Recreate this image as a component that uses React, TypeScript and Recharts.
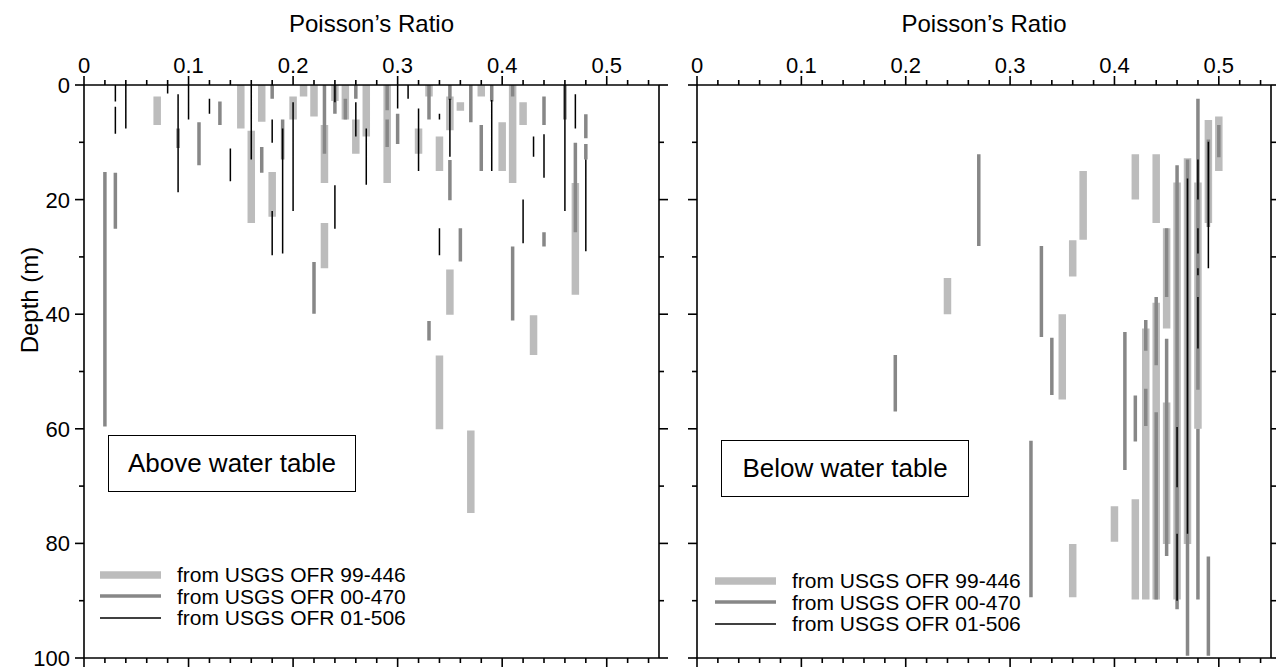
import { Legend, Line, LineChart, XAxis, YAxis } from "recharts";

// [poisson ratio, top depth (m), bottom depth (m)]
type Seg = [number, number, number];

const ratioMajorTicks = [0, 0.1, 0.2, 0.3, 0.4, 0.5];
const ratioMinorTicks = [
  0.02, 0.04, 0.06, 0.08, 0.12, 0.14, 0.16, 0.18, 0.22, 0.24, 0.26, 0.28,
  0.32, 0.34, 0.36, 0.38, 0.42, 0.44, 0.46, 0.48, 0.52, 0.54,
];
const depthMajorTicks = [0, 20, 40, 60, 80, 100];
const depthMinorTicks = [10, 30, 50, 70, 90];

const sourceNames = ["from USGS OFR 99-446", "from USGS OFR 00-470", "from USGS OFR 01-506"];

// above water table
const above99446: Seg[] = [
  [0.07, 2, 7], [0.15, 0, 7.6], [0.16, 8, 24.1], [0.17, 0, 6.4], [0.18, 15.2, 23],
  [0.2, 2, 6], [0.21, 0, 2], [0.22, 0, 5.5], [0.23, 7, 17.1], [0.23, 24.1, 32],
  [0.24, 0, 2.8], [0.25, 0, 6], [0.26, 6, 12], [0.27, 0, 9], [0.29, 0, 17.1],
  [0.32, 7.6, 12], [0.33, 0, 2], [0.34, 9, 15], [0.35, 2, 7.9], [0.35, 32.2, 40.1],
  [0.34, 47.2, 60.1], [0.36, 3, 4.5], [0.37, 60.3, 74.7], [0.38, 0, 2], [0.4, 6.5, 15],
  [0.41, 0, 17.1], [0.42, 3, 7], [0.43, 40.2, 47.1], [0.47, 17.1, 36.6],
];
const above00470: Seg[] = [
  [0.02, 15.2, 59.6], [0.03, 15.3, 25.1], [0.09, 7.6, 11], [0.11, 6.5, 14], [0.13, 2.9, 7],
  [0.17, 10.8, 15.3], [0.18, 0, 2.4], [0.19, 6, 13], [0.22, 30.9, 39.9], [0.23, 0, 12],
  [0.24, 0, 5], [0.25, 2.4, 6], [0.26, 0, 2.4], [0.29, 0, 4.4], [0.29, 6, 10.8],
  [0.3, 5, 10.3], [0.33, 0, 6], [0.33, 41.2, 44.6], [0.35, 0, 2.6], [0.35, 13.1, 20.1],
  [0.36, 25, 30.8], [0.37, 0, 6.5], [0.38, 7, 15], [0.39, 0, 2.9], [0.41, 0, 2],
  [0.41, 28.2, 41.1], [0.44, 2, 7], [0.44, 25.7, 28.2], [0.46, 0, 6], [0.47, 10.1, 25.7],
  [0.48, 5.1, 9.3], [0.48, 10.3, 13],
];
const above01506: Seg[] = [
  [0.03, 0, 2.9], [0.03, 3.8, 8.5], [0.04, 0, 7.6], [0.08, 0, 1.5], [0.09, 1.6, 18.7],
  [0.1, 0, 6], [0.12, 2.4, 5], [0.14, 11.1, 16.8], [0.16, 0, 13], [0.18, 6, 10.1],
  [0.18, 22, 29.7], [0.19, 7.6, 29.4], [0.2, 3, 22], [0.24, 0, 3], [0.24, 17.5, 25.1],
  [0.26, 3, 9], [0.27, 7.6, 17.4], [0.3, 0, 4.1], [0.31, 0, 2.4], [0.32, 4.1, 15],
  [0.34, 5, 6], [0.34, 25, 29.7], [0.35, 2.4, 12.5], [0.39, 2.6, 15], [0.42, 20, 27.6],
  [0.43, 9, 12.5], [0.44, 8.6, 16.2], [0.46, 0, 22], [0.47, 1.6, 7.6], [0.48, 13, 29],
];

// below water table
const below99446: Seg[] = [
  [0.24, 33.7, 40], [0.36, 27.1, 33.4], [0.37, 15, 27], [0.35, 40, 54.9], [0.36, 80.1, 89.4],
  [0.4, 73.5, 79.7], [0.42, 12.1, 20], [0.42, 72.3, 89.8], [0.43, 42.5, 89.8], [0.44, 12.1, 24.1],
  [0.44, 38, 89.8], [0.45, 25, 42.5], [0.45, 55.4, 80.1], [0.46, 17, 89.8], [0.47, 12.8, 80.1],
  [0.48, 17, 60], [0.49, 6.1, 24.1], [0.5, 5.5, 15],
];
const below00470: Seg[] = [
  [0.19, 47.1, 57], [0.27, 12.1, 28.1], [0.32, 62.1, 89.4], [0.33, 28.1, 44], [0.34, 44.1, 54.1],
  [0.41, 43.1, 67.2], [0.42, 54.2, 62.2], [0.43, 41, 46.4], [0.43, 53, 59.5], [0.44, 37, 48.9],
  [0.44, 57.1, 89.8], [0.45, 25, 37], [0.45, 44.3, 82.2], [0.46, 14, 91.5], [0.47, 13, 99.6],
  [0.48, 2.4, 53.2], [0.48, 60, 89.8], [0.49, 9.5, 24.8], [0.49, 82.3, 99.6], [0.5, 7, 12.6],
];
const below01506: Seg[] = [
  [0.46, 59.7, 70.2], [0.46, 78.3, 90], [0.47, 16.3, 78.3], [0.48, 13, 20], [0.48, 25, 29.4],
  [0.48, 32, 33.2], [0.48, 37, 46], [0.49, 9.9, 32],
];

const FONT = '"Liberation Sans", Arial, Helvetica, sans-serif';
const SOURCE_STYLE = [
  { color: "#bcbcbc", width: 7.5 },
  { color: "#878787", width: 3.5 },
  { color: "#000000", width: 1.5 },
];
const AXIS = { stroke: "#000", strokeWidth: 1.6 };

// each segment becomes two points followed by a null so the line breaks
const toLineData = (segs: Seg[]) =>
  segs.flatMap(([ratio, top, bottom]) => [
    { ratio, depth: top },
    { ratio, depth: bottom },
    { ratio, depth: null },
  ]);

type Side = "top" | "bottom" | "left" | "right";

function makeTick(side: Side, majors: number[], showLabels: boolean) {
  return (props: any) => {
    const { x, y, payload } = props;
    const v = payload.value;
    const major = majors.includes(v);
    const len = major ? 9 : 5;
    const x2 = side === "left" ? x - len : side === "right" ? x + len : x;
    const y2 = side === "top" ? y - len : side === "bottom" ? y + len : y;
    let label = null;
    if (showLabels && major && side === "top") {
      label = (
        <text x={x} y={y - 12} textAnchor="middle" fontSize={22} fontFamily={FONT} fill="#000">
          {String(v)}
        </text>
      );
    }
    if (showLabels && major && side === "left") {
      label = (
        <text x={x - 14} y={y} dy="0.36em" textAnchor="end" fontSize={22} fontFamily={FONT} fill="#000">
          {String(v)}
        </text>
      );
    }
    return (
      <g>
        <line x1={x} y1={y} x2={x2} y2={y2} stroke="#000" strokeWidth={1.6} />
        {label}
      </g>
    );
  };
}

function AxisTitle(props: any) {
  const vb = props.viewBox || { x: 0, y: 0, width: 0 };
  return (
    <text x={vb.x + vb.width / 2} y={vb.y + 32} textAnchor="middle" fontSize={24} fontFamily={FONT} fill="#000">
      Poisson’s Ratio
    </text>
  );
}

function DepthTitle() {
  return (
    <text x={30} y={300} dy="0.35em" transform="rotate(-90 30 300)" textAnchor="middle" fontSize={24} fontFamily={FONT} fill="#000">
      Depth (m)
    </text>
  );
}

function SourceLegend() {
  return (
    <div style={{ fontFamily: FONT, fontSize: 21, color: "#000" }}>
      {sourceNames.map((name, i) => (
        <div key={name} style={{ display: "flex", alignItems: "center", height: 21.5 }}>
          <svg width={61} height={10} style={{ display: "block" }}>
            <line x1={0} x2={61} y1={5} y2={5} stroke={SOURCE_STYLE[i].color} strokeWidth={SOURCE_STYLE[i].width} />
          </svg>
          <span style={{ marginLeft: 16, lineHeight: "21.5px", whiteSpace: "nowrap" }}>{name}</span>
        </div>
      ))}
    </div>
  );
}

interface PanelProps {
  width: number;
  leftWidth: number;
  rightWidth: number;
  labels: boolean;
  series: Seg[][];
  legendLeft: number;
  legendTop: number;
}

function Panel({ width, leftWidth, rightWidth, labels, series, legendLeft, legendTop }: PanelProps) {
  const ratioTicks = [...ratioMajorTicks, ...ratioMinorTicks].sort((a, b) => a - b);
  const depthTicks = [...depthMajorTicks, ...depthMinorTicks].sort((a, b) => a - b);
  return (
    <LineChart width={width} height={668} margin={{ top: 0, right: 0, bottom: 0, left: 0 }}>
      <XAxis
        xAxisId="top"
        orientation="top"
        type="number"
        dataKey="ratio"
        domain={[0, 0.55]}
        allowDataOverflow
        ticks={ratioTicks}
        interval={0}
        height={85}
        tickSize={0}
        tickMargin={0}
        tickLine={false}
        axisLine={AXIS}
        tick={makeTick("top", ratioMajorTicks, true)}
        label={<AxisTitle />}
      />
      <XAxis
        xAxisId="bottom"
        orientation="bottom"
        type="number"
        dataKey="ratio"
        domain={[0, 0.55]}
        allowDataOverflow
        ticks={ratioTicks}
        interval={0}
        height={10}
        tickSize={0}
        tickMargin={0}
        tickLine={false}
        axisLine={AXIS}
        tick={makeTick("bottom", ratioMajorTicks, false)}
      />
      <YAxis
        yAxisId="left"
        orientation="left"
        type="number"
        domain={[0, 100]}
        reversed
        allowDataOverflow
        ticks={depthTicks}
        interval={0}
        width={leftWidth}
        tickSize={0}
        tickMargin={0}
        tickLine={false}
        axisLine={AXIS}
        tick={makeTick("left", depthMajorTicks, labels)}
        label={labels ? <DepthTitle /> : undefined}
      />
      <YAxis
        yAxisId="right"
        orientation="right"
        type="number"
        domain={[0, 100]}
        reversed
        allowDataOverflow
        ticks={depthTicks}
        interval={0}
        width={rightWidth}
        tickSize={0}
        tickMargin={0}
        tickLine={false}
        axisLine={AXIS}
        tick={makeTick("right", depthMajorTicks, false)}
      />
      {series.map((segs, i) => (
        <Line
          key={sourceNames[i]}
          name={sourceNames[i]}
          xAxisId="top"
          yAxisId="left"
          data={toLineData(segs)}
          dataKey="depth"
          type="linear"
          stroke={SOURCE_STYLE[i].color}
          strokeWidth={SOURCE_STYLE[i].width}
          dot={false}
          activeDot={false}
          connectNulls={false}
          isAnimationActive={false}
        />
      ))}
      <Legend
        layout="vertical"
        align="center"
        verticalAlign="middle"
        content={<SourceLegend />}
        wrapperStyle={{ left: legendLeft, top: legendTop, width: 320, height: 66 }}
      />
    </LineChart>
  );
}

const boxStyle = {
  position: "absolute" as const,
  width: 248,
  height: 57,
  border: "1.5px solid #000",
  boxSizing: "border-box" as const,
  background: "#fff",
  display: "flex",
  alignItems: "center",
  justifyContent: "center",
  fontFamily: FONT,
  fontSize: 26,
  color: "#000",
};

export default function App() {
  return (
    <div style={{ position: "absolute", left: 0, top: 0, width: 1276, height: 668, background: "#fff", overflow: "hidden" }}>
      <div style={{ position: "absolute", left: 0, top: 0 }}>
        <Panel
          width={680}
          leftWidth={84}
          rightWidth={21}
          labels
          series={[above99446, above00470, above01506]}
          legendLeft={100}
          legendTop={564}
        />
      </div>
      <div style={{ position: "absolute", left: 680, top: 0 }}>
        <Panel
          width={596}
          leftWidth={17}
          rightWidth={5}
          labels={false}
          series={[below99446, below00470, below01506]}
          legendLeft={35}
          legendTop={570}
        />
      </div>
      <div style={{ ...boxStyle, left: 108, top: 435 }}>Above water table</div>
      <div style={{ ...boxStyle, left: 721, top: 440 }}>Below water table</div>
    </div>
  );
}
